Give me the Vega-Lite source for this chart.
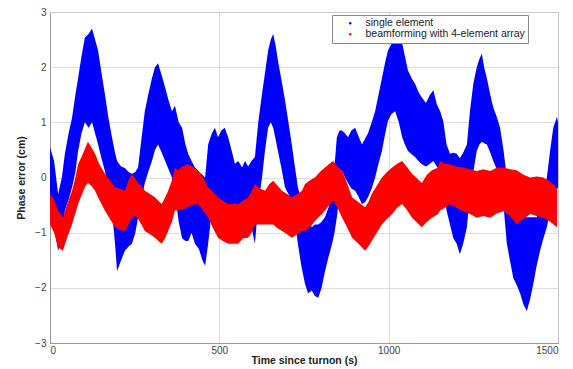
{
  "$schema": "https://vega.github.io/schema/vega-lite/v6.json",
  "width": 508,
  "height": 331,
  "autosize": {"type": "none"},
  "padding": {"left": 50, "top": 12, "right": 15, "bottom": 26},
  "background": "white",
  "config": {
    "view": {"stroke": "#999", "strokeWidth": 1},
    "font": "Liberation Sans",
    "axis": {
      "gridColor": "#d4d4d4", "gridWidth": 0.8,
      "domainColor": "#999", "ticks": false,
      "labelColor": "#444", "labelFontSize": 10,
      "titleFontSize": 10.5, "titleFontWeight": "bold", "titleColor": "#222"
    },
    "legend": {
      "orient": "none", "legendX": 282, "legendY": 3,
      "symbolType": "circle", "symbolSize": 6,
      "labelFontSize": 10.5, "labelColor": "#222", "labelLimit": 400,
      "padding": 3, "strokeColor": "#888", "fillColor": "#ffffff",
      "symbolOffset": 10, "labelOffset": 10, "rowPadding": 0
    }
  },
  "datasets": {
    "blue": [
      {"t":0,"lo":-0.45,"hi":0.55},{"t":12,"lo":-0.9,"hi":0.3},{"t":24,"lo":-1.33,"hi":-0.3},{"t":35,"lo":-1.1,"hi":0.0},
      {"t":44,"lo":-0.6,"hi":0.43},{"t":55,"lo":-0.4,"hi":0.8},{"t":65,"lo":-0.18,"hi":1.08},{"t":75,"lo":0.1,"hi":1.5},
      {"t":83,"lo":0.48,"hi":1.8},{"t":93,"lo":0.8,"hi":2.2},{"t":103,"lo":1.0,"hi":2.54},{"t":114,"lo":0.9,"hi":2.6},
      {"t":124,"lo":1.0,"hi":2.7},{"t":133,"lo":0.8,"hi":2.5},{"t":142,"lo":0.6,"hi":2.3},{"t":152,"lo":0.35,"hi":1.9},
      {"t":162,"lo":0.12,"hi":1.52},{"t":172,"lo":-0.2,"hi":1.1},{"t":183,"lo":-0.6,"hi":0.73},{"t":192,"lo":-1.2,"hi":0.45},
      {"t":198,"lo":-1.7,"hi":0.3},{"t":210,"lo":-1.5,"hi":0.2},{"t":221,"lo":-1.33,"hi":0.17},{"t":232,"lo":-1.25,"hi":0.1},
      {"t":242,"lo":-1.2,"hi":0.07},{"t":252,"lo":-1.0,"hi":0.1},{"t":260,"lo":-0.72,"hi":0.18},{"t":270,"lo":-0.4,"hi":0.7},
      {"t":280,"lo":-0.1,"hi":1.2},{"t":290,"lo":0.1,"hi":1.5},{"t":301,"lo":0.3,"hi":1.8},{"t":310,"lo":0.5,"hi":2.0},
      {"t":319,"lo":0.6,"hi":2.07},{"t":330,"lo":0.45,"hi":1.85},{"t":340,"lo":0.3,"hi":1.63},{"t":350,"lo":0.15,"hi":1.4},
      {"t":360,"lo":0.0,"hi":1.2},{"t":369,"lo":-0.3,"hi":1.3},{"t":380,"lo":-0.8,"hi":1.0},{"t":390,"lo":-1.1,"hi":0.9},
      {"t":400,"lo":-1.15,"hi":0.6},{"t":408,"lo":-1.15,"hi":0.43},{"t":418,"lo":-1.0,"hi":0.3},{"t":428,"lo":-1.2,"hi":0.18},
      {"t":440,"lo":-1.3,"hi":0.1},{"t":450,"lo":-1.5,"hi":0.05},{"t":458,"lo":-1.6,"hi":0.0},{"t":467,"lo":-1.2,"hi":0.6},
      {"t":478,"lo":-0.6,"hi":0.8},{"t":487,"lo":-0.5,"hi":0.9},{"t":496,"lo":-0.48,"hi":0.73},{"t":506,"lo":-0.5,"hi":0.85},
      {"t":516,"lo":-0.5,"hi":0.9},{"t":526,"lo":-0.55,"hi":0.73},{"t":536,"lo":-0.55,"hi":0.5},{"t":546,"lo":-0.6,"hi":0.25},
      {"t":556,"lo":-0.65,"hi":0.3},{"t":567,"lo":-0.72,"hi":0.18},{"t":576,"lo":-0.7,"hi":0.3},{"t":585,"lo":-0.75,"hi":0.2},
      {"t":595,"lo":-0.9,"hi":0.3},{"t":605,"lo":-1.2,"hi":0.37},{"t":615,"lo":-0.5,"hi":1.0},{"t":626,"lo":0.0,"hi":1.52},
      {"t":635,"lo":0.5,"hi":1.9},{"t":644,"lo":0.9,"hi":2.3},{"t":652,"lo":1.0,"hi":2.5},{"t":659,"lo":0.9,"hi":2.6},
      {"t":666,"lo":0.7,"hi":2.4},{"t":673,"lo":0.48,"hi":2.12},{"t":684,"lo":0.15,"hi":1.75},{"t":694,"lo":-0.18,"hi":1.4},
      {"t":704,"lo":-0.3,"hi":1.0},{"t":714,"lo":-0.42,"hi":0.6},{"t":723,"lo":-0.8,"hi":0.2},{"t":732,"lo":-1.2,"hi":-0.18},
      {"t":742,"lo":-1.6,"hi":-0.4},{"t":753,"lo":-1.93,"hi":-0.6},{"t":762,"lo":-2.1,"hi":-0.72},{"t":773,"lo":-2.05,"hi":-0.9},
      {"t":782,"lo":-2.15,"hi":-0.85},{"t":792,"lo":-2.18,"hi":-0.85},{"t":802,"lo":-2.0,"hi":-0.8},{"t":812,"lo":-1.7,"hi":-0.72},
      {"t":822,"lo":-1.45,"hi":-0.55},{"t":833,"lo":-1.2,"hi":-0.36},{"t":840,"lo":-1.0,"hi":0.2},{"t":847,"lo":-0.72,"hi":0.73},
      {"t":855,"lo":-0.3,"hi":0.85},{"t":862,"lo":0.13,"hi":0.85},{"t":871,"lo":0.0,"hi":0.8},{"t":880,"lo":-0.1,"hi":0.73},
      {"t":890,"lo":-0.2,"hi":0.85},{"t":901,"lo":-0.24,"hi":0.9},{"t":911,"lo":-0.35,"hi":0.75},{"t":921,"lo":-0.48,"hi":0.6},
      {"t":930,"lo":-0.45,"hi":0.7},{"t":939,"lo":-0.36,"hi":0.8},{"t":950,"lo":-0.2,"hi":1.0},{"t":960,"lo":0.0,"hi":1.2},
      {"t":970,"lo":0.25,"hi":1.5},{"t":980,"lo":0.48,"hi":1.8},{"t":990,"lo":0.8,"hi":2.1},{"t":998,"lo":1.03,"hi":2.3},
      {"t":1008,"lo":1.15,"hi":2.42},{"t":1019,"lo":1.2,"hi":2.48},{"t":1030,"lo":1.0,"hi":2.5},{"t":1040,"lo":0.73,"hi":2.43},
      {"t":1048,"lo":0.6,"hi":2.2},{"t":1057,"lo":0.48,"hi":1.94},{"t":1068,"lo":0.42,"hi":1.8},{"t":1078,"lo":0.37,"hi":1.7},
      {"t":1088,"lo":0.3,"hi":1.55},{"t":1098,"lo":0.24,"hi":1.45},{"t":1110,"lo":0.2,"hi":1.35},{"t":1122,"lo":0.25,"hi":1.5},
      {"t":1132,"lo":0.3,"hi":1.58},{"t":1142,"lo":0.2,"hi":1.33},{"t":1152,"lo":0.1,"hi":1.2},{"t":1161,"lo":-0.2,"hi":1.03},
      {"t":1171,"lo":-0.6,"hi":0.6},{"t":1181,"lo":-0.85,"hi":0.43},{"t":1191,"lo":-1.1,"hi":0.45},{"t":1201,"lo":-1.2,"hi":0.43},
      {"t":1210,"lo":-1.39,"hi":0.35},{"t":1220,"lo":-1.2,"hi":0.45},{"t":1231,"lo":-0.9,"hi":0.6},{"t":1240,"lo":-0.3,"hi":1.2},
      {"t":1250,"lo":0.1,"hi":1.7},{"t":1260,"lo":0.48,"hi":2.0},{"t":1268,"lo":0.6,"hi":2.15},{"t":1275,"lo":0.65,"hi":2.25},
      {"t":1282,"lo":0.62,"hi":2.0},{"t":1290,"lo":0.6,"hi":1.8},{"t":1300,"lo":0.45,"hi":1.5},{"t":1309,"lo":0.3,"hi":1.27},
      {"t":1319,"lo":0.15,"hi":1.1},{"t":1329,"lo":0.0,"hi":0.9},{"t":1339,"lo":-0.5,"hi":0.5},{"t":1349,"lo":-1.2,"hi":0.0},
      {"t":1358,"lo":-1.5,"hi":-0.35},{"t":1368,"lo":-1.82,"hi":-0.6},{"t":1378,"lo":-1.95,"hi":-0.65},{"t":1388,"lo":-2.1,"hi":-0.72},
      {"t":1398,"lo":-2.3,"hi":-0.72},{"t":1408,"lo":-2.42,"hi":-0.72},{"t":1418,"lo":-2.2,"hi":-0.72},{"t":1427,"lo":-1.93,"hi":-0.72},
      {"t":1437,"lo":-1.6,"hi":-0.72},{"t":1447,"lo":-1.33,"hi":-0.6},{"t":1457,"lo":-1.1,"hi":-0.3},{"t":1467,"lo":-0.9,"hi":0.0},
      {"t":1477,"lo":-0.6,"hi":0.5},{"t":1486,"lo":-0.3,"hi":0.9},{"t":1497,"lo":-0.2,"hi":1.1},{"t":1500,"lo":-0.2,"hi":1.0}
    ],
    "red": [
      {"t":0,"lo":-0.85,"hi":-0.3},{"t":12,"lo":-1.0,"hi":-0.4},{"t":24,"lo":-1.27,"hi":-0.6},{"t":38,"lo":-1.33,"hi":-0.72},
      {"t":50,"lo":-1.1,"hi":-0.5},{"t":65,"lo":-0.85,"hi":-0.24},{"t":75,"lo":-0.65,"hi":0.0},{"t":83,"lo":-0.48,"hi":0.24},
      {"t":95,"lo":-0.3,"hi":0.4},{"t":105,"lo":-0.15,"hi":0.55},{"t":112,"lo":-0.1,"hi":0.65},{"t":122,"lo":-0.15,"hi":0.55},
      {"t":133,"lo":-0.24,"hi":0.43},{"t":145,"lo":-0.4,"hi":0.25},{"t":162,"lo":-0.6,"hi":0.07},{"t":177,"lo":-0.75,"hi":-0.05},
      {"t":192,"lo":-0.9,"hi":-0.18},{"t":205,"lo":-0.95,"hi":-0.2},{"t":221,"lo":-0.97,"hi":-0.24},{"t":232,"lo":-0.85,"hi":-0.05},
      {"t":242,"lo":-0.72,"hi":0.07},{"t":252,"lo":-0.7,"hi":-0.02},{"t":260,"lo":-0.75,"hi":-0.1},{"t":270,"lo":-0.85,"hi":-0.15},
      {"t":280,"lo":-0.97,"hi":-0.24},{"t":295,"lo":-1.03,"hi":-0.3},{"t":310,"lo":-1.09,"hi":-0.36},{"t":320,"lo":-1.15,"hi":-0.42},
      {"t":330,"lo":-1.2,"hi":-0.48},{"t":340,"lo":-1.1,"hi":-0.36},{"t":349,"lo":-0.97,"hi":-0.24},{"t":360,"lo":-0.8,"hi":-0.05},
      {"t":369,"lo":-0.6,"hi":0.18},{"t":378,"lo":-0.6,"hi":0.13},{"t":390,"lo":-0.58,"hi":0.2},{"t":408,"lo":-0.54,"hi":0.24},
      {"t":420,"lo":-0.5,"hi":0.2},{"t":437,"lo":-0.48,"hi":0.13},{"t":452,"lo":-0.6,"hi":0.0},{"t":467,"lo":-0.72,"hi":-0.18},
      {"t":480,"lo":-0.9,"hi":-0.25},{"t":496,"lo":-1.09,"hi":-0.36},{"t":510,"lo":-1.15,"hi":-0.42},{"t":526,"lo":-1.2,"hi":-0.48},
      {"t":541,"lo":-1.2,"hi":-0.48},{"t":556,"lo":-1.2,"hi":-0.48},{"t":570,"lo":-1.1,"hi":-0.42},{"t":585,"lo":-1.09,"hi":-0.36},
      {"t":595,"lo":-1.0,"hi":-0.25},{"t":605,"lo":-0.85,"hi":-0.12},{"t":620,"lo":-0.85,"hi":-0.2},{"t":635,"lo":-0.85,"hi":-0.24},
      {"t":648,"lo":-0.85,"hi":-0.12},{"t":659,"lo":-0.85,"hi":-0.06},{"t":672,"lo":-0.92,"hi":-0.15},{"t":685,"lo":-0.97,"hi":-0.24},
      {"t":700,"lo":-1.03,"hi":-0.3},{"t":714,"lo":-1.09,"hi":-0.36},{"t":730,"lo":-1.03,"hi":-0.3},{"t":744,"lo":-0.97,"hi":-0.24},
      {"t":753,"lo":-0.97,"hi":-0.12},{"t":768,"lo":-0.9,"hi":-0.05},{"t":782,"lo":-0.79,"hi":0.0},{"t":797,"lo":-0.7,"hi":0.1},
      {"t":812,"lo":-0.6,"hi":0.18},{"t":825,"lo":-0.5,"hi":0.25},{"t":836,"lo":-0.42,"hi":0.3},{"t":849,"lo":-0.55,"hi":0.2},
      {"t":862,"lo":-0.72,"hi":0.13},{"t":877,"lo":-0.9,"hi":-0.1},{"t":892,"lo":-1.09,"hi":-0.36},{"t":911,"lo":-1.2,"hi":-0.45},
      {"t":930,"lo":-1.33,"hi":-0.54},{"t":940,"lo":-1.25,"hi":-0.45},{"t":950,"lo":-1.15,"hi":-0.3},{"t":965,"lo":-1.0,"hi":-0.15},
      {"t":980,"lo":-0.85,"hi":0.0},{"t":995,"lo":-0.75,"hi":0.1},{"t":1010,"lo":-0.66,"hi":0.18},{"t":1025,"lo":-0.55,"hi":0.25},
      {"t":1040,"lo":-0.48,"hi":0.3},{"t":1055,"lo":-0.6,"hi":0.18},{"t":1069,"lo":-0.73,"hi":0.07},{"t":1084,"lo":-0.82,"hi":-0.02},
      {"t":1098,"lo":-0.9,"hi":-0.1},{"t":1113,"lo":-0.8,"hi":0.05},{"t":1128,"lo":-0.73,"hi":0.13},{"t":1146,"lo":-0.66,"hi":0.18},
      {"t":1152,"lo":-0.6,"hi":0.3},{"t":1166,"lo":-0.55,"hi":0.25},{"t":1181,"lo":-0.48,"hi":0.24},{"t":1200,"lo":-0.55,"hi":0.2},
      {"t":1220,"lo":-0.61,"hi":0.18},{"t":1240,"lo":-0.66,"hi":0.15},{"t":1260,"lo":-0.73,"hi":0.12},{"t":1280,"lo":-0.7,"hi":0.15},
      {"t":1300,"lo":-0.73,"hi":0.12},{"t":1320,"lo":-0.65,"hi":0.18},{"t":1339,"lo":-0.61,"hi":0.18},{"t":1358,"lo":-0.7,"hi":0.15},
      {"t":1378,"lo":-0.85,"hi":0.13},{"t":1398,"lo":-0.75,"hi":0.05},{"t":1418,"lo":-0.66,"hi":0.0},{"t":1437,"lo":-0.7,"hi":0.02},
      {"t":1457,"lo":-0.73,"hi":0.0},{"t":1477,"lo":-0.8,"hi":-0.08},{"t":1497,"lo":-0.9,"hi":-0.18}
    ]
  },
  "encoding": {
    "x": {
      "field": "t", "type": "quantitative",
      "scale": {"domain": [0, 1500], "nice": false},
      "axis": {"values": [0, 500, 1000, 1500], "format": "d", "title": "Time since turnon (s)", "labelPadding": 2, "titlePadding": 0}
    },
    "y": {
      "field": "lo", "type": "quantitative", "stack": null,
      "scale": {"domain": [-3, 3], "nice": false},
      "axis": {"values": [-3, -2, -1, 0, 1, 2, 3], "title": "Phase error (cm)", "labelPadding": 4, "titlePadding": 8}
    },
    "y2": {"field": "hi"}
  },
  "layer": [
    {
      "data": {"name": "blue"},
      "mark": {"type": "area", "opacity": 1, "interpolate": "linear"},
      "encoding": {
        "color": {
          "datum": "single element",
          "type": "nominal",
          "scale": {"domain": ["single element", "beamforming with 4-element array"], "range": ["#0000ff", "#ff0000"]},
          "legend": {"title": null}
        }
      }
    },
    {
      "data": {"name": "red"},
      "mark": {"type": "area", "opacity": 1, "interpolate": "linear"},
      "encoding": {
        "color": {"datum": "beamforming with 4-element array", "type": "nominal"}
      }
    }
  ]
}
